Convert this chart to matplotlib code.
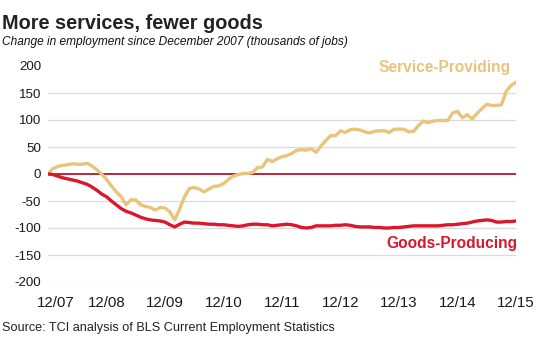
import matplotlib
matplotlib.use("Agg")
import matplotlib.pyplot as plt
import matplotlib.transforms as mtransforms
import numpy as np

plt.rcParams['font.family'] = ['Liberation Sans', 'DejaVu Sans']

# Monthly change in employment since December 2007, thousands of jobs
# (Dec 2007 .. Dec 2015, one value per month)
service_providing = [
    0, 10, 14, 16, 17, 19, 18, 18, 20, 15, 8, 0,
    -10, -22, -33, -42, -57, -48, -48, -57, -60, -62, -67, -62,
    -63, -70, -85, -65, -42, -27, -25, -28, -33, -28, -23, -22,
    -18, -10, -4, -1, 1, 1, 3, 12, 13, 27, 23, 28,
    32, 34, 38, 44, 45, 44, 47, 40, 52, 62, 71, 71,
    80, 77, 82, 83, 81.5, 78, 76, 79, 80, 80, 77, 83,
    83, 83, 78, 79, 90, 98, 95, 98, 99, 99, 99, 113,
    116, 104, 110, 102, 112, 121, 129, 127, 127, 128, 153, 164,
    170,
]
goods_producing = [
    0, -1, -4, -7, -9, -11, -13, -16, -19, -24, -30, -37,
    -42, -50, -57, -64, -69, -72, -76, -80, -83, -85, -86, -87,
    -89, -94, -98, -93, -89, -90, -91, -91, -92, -93, -93, -94,
    -94, -95, -96, -97, -96, -94, -93, -93, -94, -94, -96, -95,
    -94, -93, -94, -96, -99, -100, -99, -96, -96, -96, -96, -95,
    -95, -94, -95, -97, -98, -98, -98, -99, -99, -100, -100, -99,
    -99, -98, -97, -96, -96, -96, -96, -96, -96, -95, -94, -94,
    -93, -92, -91, -89, -87, -86, -85, -86, -89, -89, -88, -88,
    -87,
]
tick_labels = ["12/07", "12/08", "12/09", "12/10", "12/11",
               "12/12", "12/13", "12/14", "12/15"]
y_ticks = [-200, -150, -100, -50, 0, 50, 100, 150, 200]

SERVICE_COLOR = "#E8C47C"
GOODS_COLOR = "#D9182D"
ZERO_COLOR = "#B3162C"
GRID_COLOR = "#DADADA"

W, H = 540, 339
fig = plt.figure(figsize=(W / 100, H / 100), dpi=100)
ax = fig.add_axes([48 / W, 1 - 282 / H, (516 - 48) / W, (282 - 66) / H])

months = np.arange(len(service_providing))

# horizontal guide lines (no line at the top value)
for v in y_ticks:
    if v == 0 or v == max(y_ticks):
        continue
    ax.axhline(v, color=GRID_COLOR, lw=0.9, zorder=1)
ax.axhline(0, color=ZERO_COLOR, lw=1.3, zorder=2)

ax.plot(months, service_providing, color=SERVICE_COLOR, lw=2.4,
        solid_joinstyle="round", zorder=3)
ax.plot(months, goods_producing, color=GOODS_COLOR, lw=2.4,
        solid_joinstyle="round", zorder=4)

ax.set_xlim(0, len(months) - 1)
ax.set_ylim(-200, 200)

for s in ax.spines.values():
    s.set_visible(False)

ax.set_yticks(y_ticks)
ax.set_yticklabels([str(v) for v in y_ticks], fontsize=9.6, color="#1a1a1a")
ax.set_xticks(np.arange(0, len(months), 12))
ax.set_xticklabels(tick_labels, fontsize=10.8, color="#1a1a1a")
ax.tick_params(axis="y", length=0, pad=5)
ax.tick_params(axis="x", length=0, pad=10)

# nudge the first date label clear of the value labels
first = ax.get_xticklabels()[0]
first.set_transform(first.get_transform() +
                    mtransforms.ScaledTranslation(8 / 100, 0, fig.dpi_scale_trans))

ax.text(94.8, 188, "Service-Providing", color=SERVICE_COLOR, fontsize=11.2,
        fontweight="bold", ha="right", va="baseline", clip_on=False)
ax.text(96.2, -137.6, "Goods-Producing", color=GOODS_COLOR, fontsize=11.2,
        fontweight="bold", ha="right", va="baseline", clip_on=False)

fig.text(2 / W, 1 - 29 / H, "More services, fewer goods", fontsize=14.3,
         fontweight="bold", color="#222222", ha="left", va="baseline")
fig.text(2 / W, 1 - 45 / H,
         "Change in employment since December 2007 (thousands of jobs)",
         fontsize=8.6, style="italic", color="#111111", ha="left", va="baseline")
fig.text(2 / W, 1 - 331 / H,
         "Source: TCI analysis of BLS Current Employment Statistics",
         fontsize=9.1, color="#222222", ha="left", va="baseline")

fig.savefig("out.png", dpi=100)
